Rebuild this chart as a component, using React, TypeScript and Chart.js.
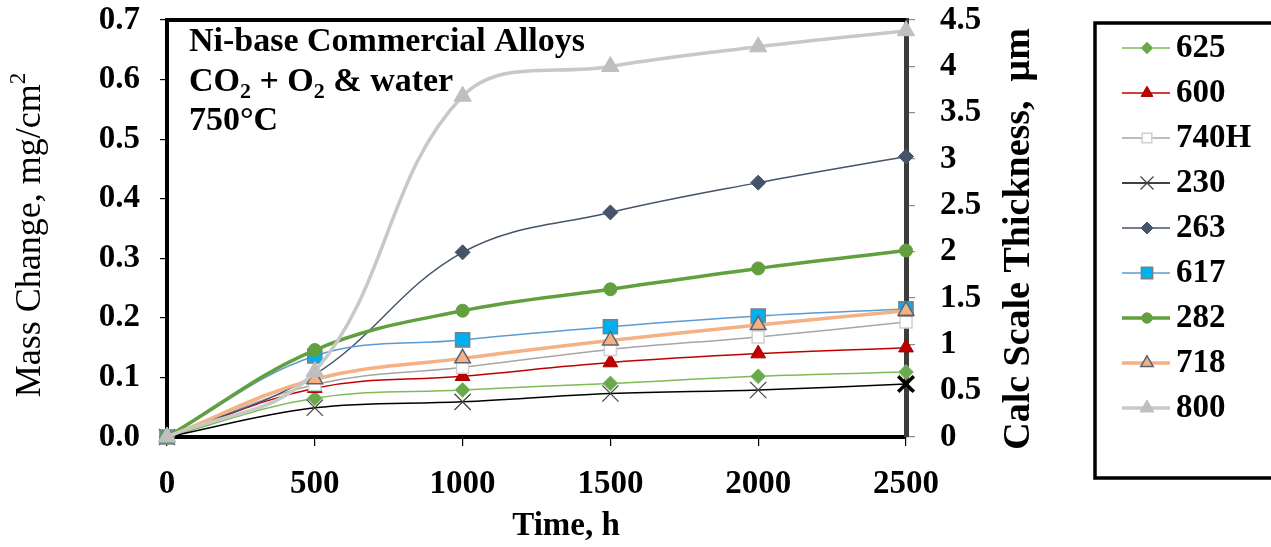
import React, { useEffect, useRef } from 'react';
import { Chart, registerables } from 'chart.js';
import { drawPoint } from 'chart.js/helpers';

Chart.register(...registerables);

// ---------- data ----------
const times = [0, 500, 1000, 1500, 2000, 2500];
const alloy625 = [0, 0.065, 0.079, 0.090, 0.102, 0.109];
const alloy600 = [0, 0.082, 0.102, 0.125, 0.140, 0.150];
const alloy740H = [0, 0.088, 0.117, 0.147, 0.168, 0.193];
const alloy230 = [0, 0.049, 0.059, 0.073, 0.079, 0.089];
const alloy263 = [0, 0.105, 0.310, 0.377, 0.427, 0.471];
const alloy617 = [0, 0.136, 0.163, 0.185, 0.203, 0.215];
const alloy282 = [0, 0.146, 0.212, 0.248, 0.283, 0.313];
const alloy718 = [0, 0.097, 0.132, 0.162, 0.188, 0.212];
const alloy800 = [0, 0.110, 0.572, 0.622, 0.655, 0.682];

const seriesNames = ['625', '600', '740H', '230', '263', '617', '282', '718', '800'];
const seriesValues = [alloy625, alloy600, alloy740H, alloy230, alloy263, alloy617, alloy282, alloy718, alloy800];

const xTickValues = [0, 500, 1000, 1500, 2000, 2500];
const leftTickValues = [0, 0.1, 0.2, 0.3, 0.4, 0.5, 0.6, 0.7];
const leftTickLabels = ['0.0', '0.1', '0.2', '0.3', '0.4', '0.5', '0.6', '0.7'];
const rightTickValues = [0, 0.5, 1, 1.5, 2, 2.5, 3, 3.5, 4, 4.5];
const rightTickLabels = ['0', '0.5', '1', '1.5', '2', '2.5', '3', '3.5', '4', '4.5'];

const xTitle = 'Time, h';
const leftTitle = 'Mass Change, mg/cm';
const leftTitleSup = '2';
const rightTitle = 'Calc Scale Thickness,  \u03bcm';
const noteLines = [
  [{ t: 'Ni-base Commercial Alloys' }],
  [{ t: 'CO' }, { t: '2', sub: true }, { t: ' + O' }, { t: '2', sub: true }, { t: ' & water' }],
  [{ t: '750\u00b0C' }],
];

// ---------- styles ----------
const FONT = "'Liberation Serif', 'Times New Roman', serif";
const seriesStyles = [
  { line: '#7DBB57', lw: 1.5, style: 'rectRot', fill: '#6AA84F', border: '#8CC46A', r: 7.5, bw: 1 },
  { line: '#C00000', lw: 1.5, style: 'triangle', fill: '#C00000', border: '#A00000', r: 8.5, bw: 1 },
  { line: '#A6A6A6', lw: 1.5, style: 'rect', fill: '#FFFFFF', border: '#D0D0D0', r: 8.5, bw: 1.5 },
  { line: '#000000', lw: 1.5, style: 'crossRot', fill: '#000000', border: '#404040', r: 11.5, bw: 1.2 },
  { line: '#44546A', lw: 1.5, style: 'rectRot', fill: '#44546A', border: '#44546A', r: 7.5, bw: 1 },
  { line: '#5B9BD5', lw: 1.5, style: 'rect', fill: '#00B0F0', border: '#7F7F7F', r: 10, bw: 1.5 },
  { line: '#62A03F', lw: 3.5, style: 'circle', fill: '#62A03F', border: '#62A03F', r: 6.5, bw: 1 },
  { line: '#F4B183', lw: 3.5, style: 'triangle', fill: '#F4B183', border: '#5A6478', r: 9, bw: 1.5 },
  { line: '#C8C8C8', lw: 3.5, style: 'triangle', fill: '#BFBFBF', border: '#BFBFBF', r: 10, bw: 1 },
];

function drawRotatedText(ctx: CanvasRenderingContext2D, cx: number, cy: number, parts: { t: string; font: string; dy?: number }[]) {
  ctx.save();
  ctx.translate(cx, cy);
  ctx.rotate(-Math.PI / 2);
  let total = 0;
  for (const p of parts) {
    ctx.font = p.font;
    total += ctx.measureText(p.t).width;
  }
  let x = -total / 2;
  ctx.textAlign = 'left';
  ctx.textBaseline = 'middle';
  ctx.fillStyle = '#000';
  for (const p of parts) {
    ctx.font = p.font;
    ctx.fillText(p.t, x, p.dy || 0);
    x += ctx.measureText(p.t).width;
  }
  ctx.restore();
}

const zeroPad = (scale: any) => {
  scale.paddingTop = 0;
  scale.paddingBottom = 0;
  scale.paddingLeft = 0;
  scale.paddingRight = 0;
};

const decorPlugin = {
  id: 'decor',
  beforeDatasetsDraw(chart: any) {
    const { ctx, chartArea: a } = chart;
    ctx.save();
    ctx.strokeStyle = '#000';
    ctx.lineWidth = 4;
    ctx.beginPath();
    ctx.moveTo(a.left - 2, a.top);
    ctx.lineTo(a.right, a.top);
    ctx.stroke();
    ctx.restore();
  },
  afterDraw(chart: any) {
    const ctx: CanvasRenderingContext2D = chart.ctx;
    const a = chart.chartArea;
    ctx.save();

    // annotation text
    const noteFont = `bold 34px ${FONT}`;
    const subFont = `bold 22px ${FONT}`;
    ctx.fillStyle = '#000';
    ctx.textBaseline = 'alphabetic';
    ctx.textAlign = 'left';
    noteLines.forEach((line, i) => {
      let x = a.left + 22;
      const y = a.top + 31 + i * 39.5;
      for (const seg of line as any[]) {
        ctx.font = seg.sub ? subFont : noteFont;
        ctx.fillText(seg.t, x, seg.sub ? y + 7 : y);
        x += ctx.measureText(seg.t).width;
      }
    });

    // x title
    ctx.font = `bold 33px ${FONT}`;
    ctx.textAlign = 'center';
    ctx.textBaseline = 'middle';
    ctx.fillText(xTitle, 566, 526);

    // left title
    drawRotatedText(ctx, 31, 235, [
      { t: leftTitle, font: `36px ${FONT}` },
      { t: leftTitleSup, font: `23px ${FONT}`, dy: -12 },
    ]);

    // right title
    drawRotatedText(ctx, 1019, 239, [{ t: rightTitle, font: `bold 38px ${FONT}` }]);

    // legend
    ctx.strokeStyle = '#000';
    ctx.lineWidth = 3.5;
    ctx.strokeRect(1095, 23, 220, 455);
    seriesNames.forEach((name, i) => {
      const s = seriesStyles[i];
      const y = 48 + i * 45;
      ctx.strokeStyle = s.line;
      ctx.lineWidth = s.lw;
      ctx.beginPath();
      ctx.moveTo(1122, y);
      ctx.lineTo(1170, y);
      ctx.stroke();
      ctx.fillStyle = s.fill;
      ctx.strokeStyle = s.border;
      ctx.lineWidth = s.bw;
      drawPoint(ctx, { pointStyle: s.style as any, rotation: 0, radius: s.r * 0.8, borderWidth: s.bw }, 1147, y);
      ctx.fillStyle = '#000';
      ctx.font = `bold 33px ${FONT}`;
      ctx.textAlign = 'left';
      ctx.textBaseline = 'middle';
      ctx.fillText(name, 1176, y);
    });

    ctx.restore();
  },
};

export default function App() {
  const canvasRef = useRef<HTMLCanvasElement | null>(null);

  useEffect(() => {
    const canvas = canvasRef.current;
    if (!canvas) return;
    const n = seriesNames.length;
    const datasets = seriesNames.map((name, i) => {
      const s = seriesStyles[i];
      const isBoldLast = name === '230';
      return {
        label: name,
        data: times.map((t, j) => ({ x: t, y: seriesValues[i][j] })),
        yAxisID: 'y',
        borderColor: s.line,
        borderWidth: s.lw,
        backgroundColor: s.fill,
        pointStyle: s.style,
        pointRadius: isBoldLast ? times.map((_, j) => (j === times.length - 1 ? 11 : s.r)) : s.r,
        pointBackgroundColor: s.fill,
        pointBorderColor: isBoldLast ? times.map((_, j) => (j === times.length - 1 ? '#000' : s.border)) : s.border,
        pointBorderWidth: isBoldLast ? times.map((_, j) => (j === times.length - 1 ? 3.5 : s.bw)) : s.bw,
        tension: 0.38,
        clip: false as any,
        order: n - i,
        fill: false,
      };
    });

    const chart = new Chart(canvas, {
      type: 'line',
      data: { datasets: datasets as any },
      options: {
        responsive: false,
        animation: false,
        events: [],
        layout: { padding: { top: 20, left: 0, right: 0, bottom: 0 } },
        plugins: { legend: { display: false }, tooltip: { enabled: false } },
        scales: {
          x: {
            type: 'linear',
            min: 0,
            max: 2500,
            afterBuildTicks: (scale: any) => {
              scale.ticks = xTickValues.map((v) => ({ value: v }));
            },
            afterFit: (scale: any) => {
              scale.height = 110;
              zeroPad(scale);
            },
            ticks: {
              color: '#000',
              font: { family: FONT, size: 33, weight: 'bold' },
              padding: 19,
              maxRotation: 0,
              autoSkip: false,
              callback: (v: any) => String(v),
            },
            grid: { drawOnChartArea: false, drawTicks: true, tickLength: 9, color: '#000', lineWidth: 1.2 },
            border: { display: true, color: '#000', width: 4 },
          },
          y: {
            type: 'linear',
            position: 'left',
            min: 0,
            max: 0.7,
            afterBuildTicks: (scale: any) => {
              scale.ticks = leftTickValues.map((v) => ({ value: v }));
            },
            afterFit: (scale: any) => {
              scale.width = 167;
              zeroPad(scale);
            },
            ticks: {
              color: '#000',
              font: { family: FONT, size: 33, weight: 'bold' },
              padding: 20,
              autoSkip: false,
              callback: (v: any) => {
                const k = leftTickValues.findIndex((t) => Math.abs(t - v) < 1e-9);
                return k >= 0 ? leftTickLabels[k] : '';
              },
            },
            grid: { drawOnChartArea: false, drawTicks: true, tickLength: 7, color: '#000', lineWidth: 1.2 },
            border: { display: true, color: '#000', width: 4 },
          },
          y2: {
            type: 'linear',
            position: 'right',
            min: 0,
            max: 4.5,
            afterBuildTicks: (scale: any) => {
              scale.ticks = rightTickValues.map((v) => ({ value: v }));
            },
            afterFit: (scale: any) => {
              scale.width = 365;
              zeroPad(scale);
            },
            ticks: {
              color: '#000',
              font: { family: FONT, size: 33, weight: 'bold' },
              padding: 25,
              autoSkip: false,
              callback: (v: any) => {
                const k = rightTickValues.findIndex((t) => Math.abs(t - v) < 1e-9);
                return k >= 0 ? rightTickLabels[k] : '';
              },
            },
            grid: { drawOnChartArea: false, drawTicks: true, tickLength: 9, color: '#8C8C8C', lineWidth: 1.2 },
            border: { display: true, color: '#3C3C3C', width: 5 },
          },
        },
      } as any,
      plugins: [decorPlugin],
    });
    return () => chart.destroy();
  }, []);

  return (
    <div style={{ position: 'fixed', left: 0, top: 0, width: 1271, height: 547, background: '#fff' }}>
      <canvas ref={canvasRef} width={1271} height={547} style={{ display: 'block', width: 1271, height: 547 }} />
    </div>
  );
}
